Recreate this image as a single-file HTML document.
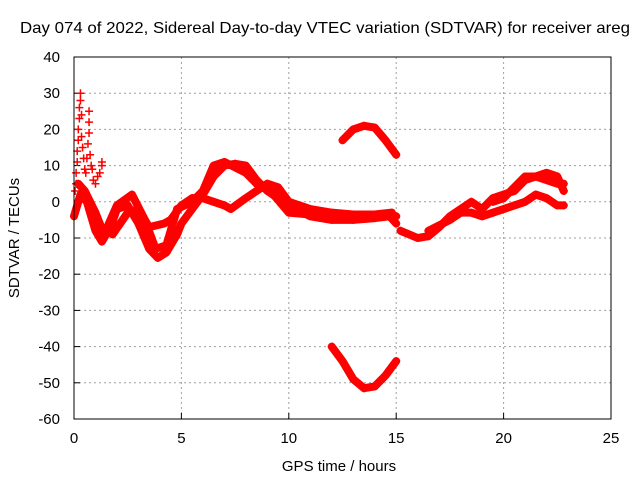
<!DOCTYPE html>
<html><head><meta charset="utf-8"><style>
body{margin:0;background:#fff}
svg{display:block;font-family:"Liberation Sans",sans-serif}
</style></head><body>
<svg id="c" width="640" height="480">
<text x="20" y="33" font-size="16" textLength="610" lengthAdjust="spacingAndGlyphs">Day 074 of 2022, Sidereal Day-to-day VTEC variation (SDTVAR) for receiver areg</text>
<text x="339" y="471" font-size="15" text-anchor="middle">GPS time / hours</text>
<text transform="translate(19,238) rotate(-90)" font-size="15" text-anchor="middle">SDTVAR / TECUs</text>
<g id="grid"></g><g id="marks"></g>
<rect x="74" y="57" width="537" height="362" fill="none" stroke="#000"/>
</svg>
<script>
const xTicks=[0,5,10,15,20,25];
const yTicks=[40,30,20,10,0,-10,-20,-30,-40,-50,-60];
const arcTop=[[12.5,17],[13,20],[13.5,21],[14,20.5],[14.5,17],[15,13]];
const arcBottom=[[12,-40],[12.5,-44],[13,-49],[13.5,-51.5],[14,-51],[14.5,-48],[15,-44]];
const curve1=[[0,-4],[0.3,2],[0.6,0],[1,-8],[1.3,-11],[1.7,-7],[2,-2],[2.5,-1],[3,-6],[3.5,-13],[3.9,-15.5],[4.3,-14],[4.8,-9],[5,-6],[5.5,-2],[6,2],[6.5,7],[7,10],[7.5,10.5],[8,10],[8.5,6],[9,3],[10,-1],[11,-4],[12,-5],[13,-5],[14,-4.5],[14.7,-4],[15,-6]];
const curve2=[[0.2,5],[0.5,3],[1,-3],[1.4,-9],[2,-1],[2.7,2],[3.3,-5],[3.8,-13],[4.3,-12],[4.8,-2],[5.5,0],[6,3],[6.5,10],[7,11],[8,8],[8.5,5],[9,4],[10,-3],[11,-3.5],[12,-4],[13,-4],[14,-4],[15,-4]];
const curve3=[[1.8,-9],[2.5,-3],[3,-2],[3.5,-7],[4.2,-6],[4.5,-5],[5,-1],[5.5,1],[6,1],[6.5,0],[7,-1],[7.3,-2],[8,1],[9,5],[9.5,4],[10,0],[11,-2],[12,-3],[13,-3.5],[14,-3.5],[14.8,-3]];
const curve4=[[8.5,5],[9.5,2],[10.5,-2],[11.5,-3]];
const right1=[[15.2,-8],[16,-10],[16.5,-9.5],[17,-7],[17.5,-4],[18,-2],[18.5,0],[19,-2],[19.5,1],[20,2],[20.5,3],[21,6],[21.5,7],[22,6],[22.5,5],[22.8,5]];
const right2=[[16.5,-8],[17.5,-5],[18,-3],[18.5,-3],[19,-4],[19.5,-3],[20,-2],[20.5,-1],[21,0],[21.5,2],[22,1],[22.5,-1],[22.8,-1]];
const right3=[[19.5,0],[20,1],[20.5,4],[21,7],[21.5,7],[22,8],[22.5,7],[22.8,3]];
const spikes=[[0.1,5],[0.1,8],[0.15,11],[0.15,14],[0.2,17],[0.2,20],[0.25,23],[0.25,26],[0.3,28],[0.3,30],[0.35,24],[0.35,18],[0.4,15],[0.45,12],[0.5,9],[0.55,8],[0.6,12],[0.65,16],[0.7,19],[0.7,22],[0.7,25],[0.75,13],[0.8,10],[0.85,9],[0.9,6],[1,5],[1.1,7],[1.2,8],[1.3,10],[1.3,11],[0.05,3]];
const X=h=>74+h*537/25, Y=v=>57+(40-v)*362/100;
const NS="http://www.w3.org/2000/svg";
const g=document.getElementById('grid'), m=document.getElementById('marks');
function el(t,a,p){const e=document.createElementNS(NS,t);for(const k in a)e.setAttribute(k,a[k]);p.appendChild(e);return e;}
xTicks.forEach(t=>{
 if(t>0&&t<25){const l=el('line',{x1:X(t),x2:X(t),y1:57,y2:419,stroke:'#a0a0a0','stroke-dasharray':'2,3'},g);
 
 }
 const k=el('line',{x1:X(t),x2:X(t),y1:419,y2:413,stroke:'#000'},g);
 
 
 const s=el('text',{x:X(t),y:443,'font-size':15,'text-anchor':'middle'},g);s.textContent=t;
 
 
});
yTicks.forEach(t=>{
 if(t<40&&t>-60){const l=el('line',{x1:74,x2:611,y1:Y(t),y2:Y(t),stroke:'#a0a0a0','stroke-dasharray':'2,3'},g);
 
 }
 const k=el('line',{x1:74,x2:80,y1:Y(t),y2:Y(t),stroke:'#000'},g);
 
 
 const s=el('text',{x:60,y:Y(t)+5,'font-size':15,'text-anchor':'end'},g);s.textContent=t;
 
 
});
function plus(h,v){const x=X(h),y=Y(v);
 const p=el('path',{d:`M${x-4} ${y}H${x+4}M${x} ${y-4}V${y+4}`,stroke:'#f00','stroke-width':1.5},m);
 
 }
[[arcTop,'arc-top'],[arcBottom,'arc-bottom'],[curve1,'curve-1'],[curve2,'curve-2'],[curve3,'curve-3'],[curve4,'curve-4'],[right1,'right-1'],[right2,'right-2'],[right3,'right-3']].forEach(([s,n])=>{
 const pl=el('polyline',{points:s.map(p=>X(p[0])+','+Y(p[1])).join(' '),fill:'none',stroke:'#f00','stroke-width':8,'stroke-linejoin':'round','stroke-linecap':'round'},m);
 
 
 s.forEach(p=>plus(p[0],p[1]));
});
spikes.forEach(p=>plus(p[0],p[1]));
</script>
</body></html>
